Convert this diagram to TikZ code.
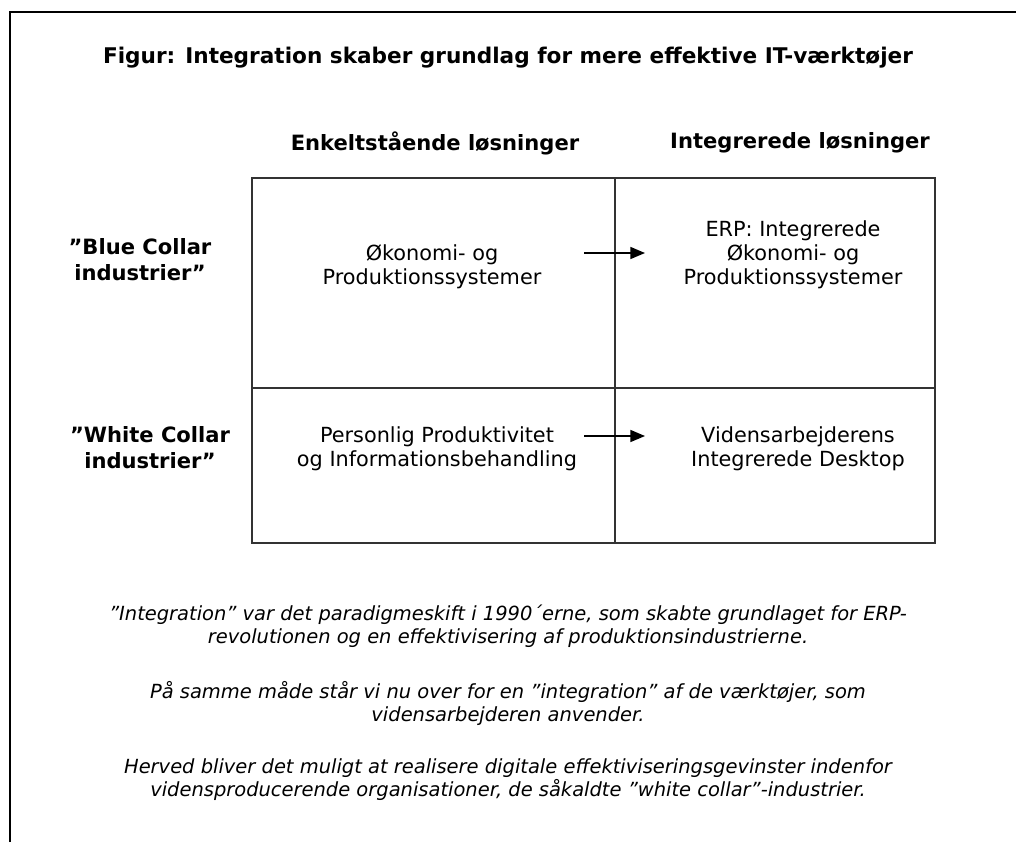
\documentclass[tikz,border=0pt]{standalone}
\usepackage{fontspec}
\setmainfont{DejaVu Sans}
\usepackage{tikz}
\usetikzlibrary{arrows.meta}

\begin{document}
\begin{tikzpicture}[x=0.75pt,y=-0.75pt,
    title/.style={font=\bfseries\fontsize{16.2}{19}\selectfont, anchor=center},
    heading/.style={font=\bfseries\fontsize{15.8}{19}\selectfont, anchor=center},
    rowlabel/.style={font=\bfseries\fontsize{15.8}{19.5}\selectfont, align=center, anchor=center},
    celltext/.style={font=\fontsize{15.6}{18}\selectfont, align=center, anchor=center},
    caption/.style={font=\itshape\fontsize{14.6}{17.25}\selectfont, align=center, anchor=center},
    gridline/.style={draw=black!80, line width=1.2pt}]
            \useasboundingbox (0,0) rectangle (1016,842);
            % Frame
            \draw[line width=1.5pt] (10,842) -- (10,12) -- (1016,12);

            % Nodes
            \node[title] (fig) at (508,58) {Figur: Integration skaber grundlag for mere effektive IT-værktøjer};
            \node[heading] (hleft) at (435,143) {Enkeltstående løsninger};
            \node[heading] (hright) at (800,143) {Integrerede løsninger};
            \node[rowlabel] (blue) at (140,260) {”Blue Collar\\industrier”};
            \node[rowlabel] (white) at (150,448) {”White Collar\\industrier”};
            \node[celltext] (c11) at (432,267) {Økonomi- og\\Produktionssystemer};
            \node[celltext] (c12) at (793,255) {ERP: Integrerede\\Økonomi- og\\Produktionssystemer};
            \node[celltext] (c21) at (437,449) {Personlig Produktivitet\\og Informationsbehandling};
            \node[celltext] (c22) at (798,449) {Vidensarbejderens\\Integrerede Desktop};
            \node[caption] (cap1) at (508,626) {”Integration” var det paradigmeskift i 1990´erne, som skabte grundlaget for ERP-\\revolutionen og en effektivisering af produktionsindustrierne.};
            \node[caption] (cap2) at (508,703) {På samme måde står vi nu over for en ”integration” af de værktøjer, som\\vidensarbejderen anvender.};
            \node[caption] (cap3) at (508,780) {Herved bliver det muligt at realisere digitale effektiviseringsgevinster indenfor\\vidensproducerende organisationer, de såkaldte ”white collar”-industrier.};
            \coordinate (a1) at (584,253);
            \coordinate (b1) at (645,253);
            \coordinate (a2) at (584,436);
            \coordinate (b2) at (645,436);

            % Grid
            \draw[gridline] (252,178) rectangle (935,543);
            \draw[gridline] (615,178) -- (615,543);
            \draw[gridline] (252,388) -- (935,388);

            % Edges
            \draw[line width=1.2pt, -{Triangle[length=11pt,width=9pt]}] (a1) -- (b1);
            \draw[line width=1.2pt, -{Triangle[length=11pt,width=9pt]}] (a2) -- (b2);
        \end{tikzpicture}
\end{document}
